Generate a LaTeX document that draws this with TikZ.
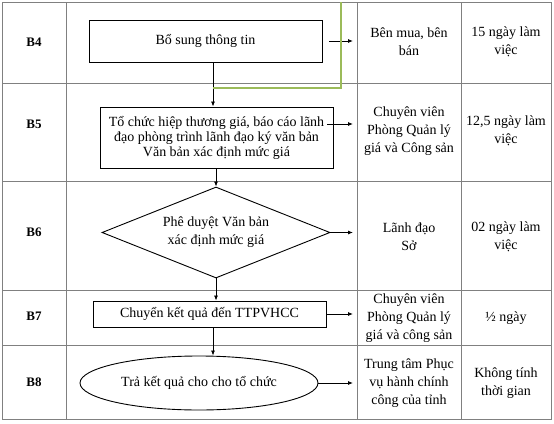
\documentclass[tikz,border=0pt]{standalone}
\usepackage{fontspec}
\setmainfont{Liberation Serif}
\usetikzlibrary{shapes.geometric,arrows.meta,calc}
\definecolor{gridgray}{RGB}{128,128,128}
\definecolor{flowgreen}{RGB}{155,187,89}
\tikzset{
  gridline/.style={draw=gridgray, line width=1pt},
  flowbox/.style={draw=black, line width=0.9pt, rectangle, minimum height=26pt, align=center, inner sep=0pt, font=\fontsize{14}{15}\selectfont},
  decision/.style={draw=black, line width=0.9pt, diamond, aspect=2.5, inner sep=0pt, align=center, font=\fontsize{14}{18}\selectfont},
  terminal/.style={draw=black, line width=0.9pt, ellipse, inner sep=0pt, align=center, font=\fontsize{14}{15}\selectfont},
  celltext/.style={align=center, inner sep=0pt, font=\fontsize{14}{18}\selectfont},
  rowlabel/.style={inner sep=0pt, font=\fontsize{13}{15}\selectfont\bfseries},
  arr/.style={draw=black, line width=0.8pt, -{Latex[length=5pt,width=4pt]}},
  greenline/.style={draw=flowgreen, line width=1.1pt}
}
\begin{document}
\begin{tikzpicture}[x=1pt,y=-1pt]
\useasboundingbox (0,0) rectangle (554,423);
\fill[white] (0,0) rectangle (554,423);
% table grid
\draw[gridline] (2,2) rectangle (551,419);
\foreach \xx in {66,357,461} \draw[gridline] (\xx,2) -- (\xx,419);
\foreach \yy in {83,181,290,345} \draw[gridline] (2,\yy) -- (551,\yy);
% row labels
\node[rowlabel] (l4) at (34,42) {B4};
\node[rowlabel] (l5) at (34,124) {B5};
\node[rowlabel] (l6) at (34,232) {B6};
\node[rowlabel] (l7) at (34,316) {B7};
\node[rowlabel] (l8) at (34,382) {B8};
% flow shapes
\node[flowbox, minimum width=233pt, minimum height=42pt] (b4) at (205.5,41) {Bổ sung thông tin};
\node[flowbox, minimum width=233pt, minimum height=61pt] (b5) at (216.5,137.5) {Tổ chức hiệp thương giá, báo cáo lãnh\\đạo phòng trình lãnh đạo ký văn bản\\Văn bản xác định mức giá};
\node[decision, minimum width=228pt, minimum height=91pt] (b6) at (216,232.5) {Phê duyệt Văn bản\\xác định mức giá};
\node[flowbox, minimum width=233pt, minimum height=26pt] (b7) at (209.5,314) {Chuyển kết quả đến TTPVHCC};
\node[terminal, minimum width=238pt, minimum height=54pt] (b8) at (199,383) {Trả kết quả cho cho tổ chức};
% cells column 3
\node[celltext] (c4) at (409,42) {Bên mua, bên\\bán};
\node[celltext] (c5) at (409,131.5) {Chuyên viên\\Phòng Quản lý\\giá và Công sản};
\node[celltext] (c6) at (409,236.5) {Lãnh đạo\\Sở};
\node[celltext] (c7) at (409,318) {Chuyên viên\\Phòng Quản lý\\giá và công sản};
\node[celltext] (c8) at (409,383) {Trung tâm Phục\\vụ hành chính\\công của tỉnh};
% cells column 4
\node[celltext] (t4) at (506,42) {15 ngày làm\\việc};
\node[celltext] (t5) at (506,131) {12,5 ngày làm\\việc};
\node[celltext] (t6) at (506,236.5) {02 ngày làm\\việc};
\node[celltext] (t7) at (506,318) {½ ngày};
\node[celltext] (t8) at (506,383) {Không tính\\thời gian};
% vertical connectors
\coordinate (xa) at (213,0);
\coordinate (xb) at (216,0);
\draw[arr] (b4.south -| xa) -- (b5.north -| xa);
\draw[arr] (b5.south -| xb) -- (b6.north);
\draw[arr] (b6.south) -- (b7.north -| xb);
\draw[arr] (b7.south -| xa) -- (b8.north -| xa);
% right connectors
\coordinate (re) at (353,0);
\draw[arr] ($(b4.east)+(7,0)$) -- (b4.east -| re);
\coordinate (r5) at (327,124);
\draw[arr] (r5) -- (r5 -| re);
\draw[arr] (b6.east) -- (b6.east -| re);
\draw[arr] (b7.east) -- (b7.east -| re);
\draw[arr] (b8.east) -- (b8.east -| re);
% green loop
\coordinate (g1) at (213,88);
\coordinate (g2) at (341,88);
\coordinate (g3) at (341,2);
\draw[greenline] (g1) -- (g2) -- (g3);
\end{tikzpicture}
\end{document}
